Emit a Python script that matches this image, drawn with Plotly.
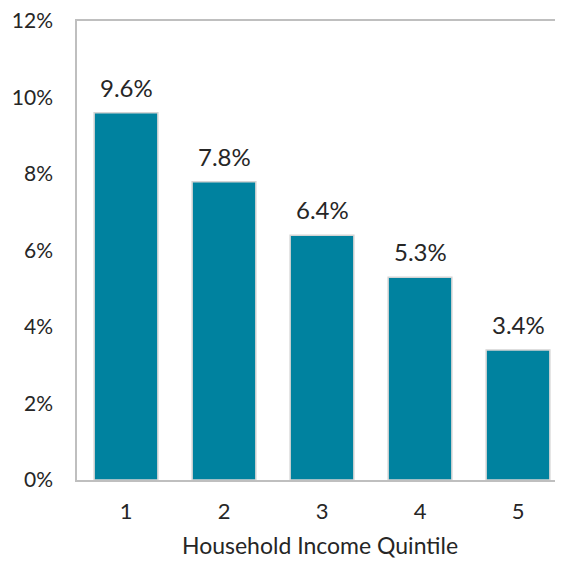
import plotly.graph_objects as go

quintiles = [1, 2, 3, 4, 5]
values = [9.6, 7.8, 6.4, 5.3, 3.4]
labels = ["9.6%", "7.8%", "6.4%", "5.3%", "3.4%"]
y_ticks = [0, 2, 4, 6, 8, 10, 12]
y_tick_labels = ["0%", "2%", "4%", "6%", "8%", "10%", "12%"]

font_color = "#262626"

fig = go.Figure()
fig.add_trace(go.Bar(
    x=quintiles, y=values, width=0.65,
    marker=dict(color="#00829F", line=dict(color="#D4D4D4", width=1.5)),
    hoverinfo="skip",
))
for q, v, lab in zip(quintiles, values, labels):
    fig.add_annotation(x=q, y=v, text=lab, showarrow=False, yanchor="bottom",
                       yshift=9, font=dict(family="Lato", size=24, color=font_color))

fig.update_layout(
    width=555, height=557,
    margin=dict(l=69, r=0, t=13, b=85),
    paper_bgcolor="white", plot_bgcolor="white",
    showlegend=False,
    font=dict(family="Lato", size=21, color=font_color),
    xaxis=dict(
        range=[0.5, 0.5 + 486 / 98], tickvals=quintiles, ticktext=[str(q) for q in quintiles],
        showline=True, linecolor="#BFBFBF", linewidth=1.5, mirror=True,
        showgrid=False, zeroline=False, ticks="", ticklabelstandoff=11,
        automargin=False, tickfont=dict(size=22),
        title=dict(text="Household Income Quintile", standoff=15,
                   font=dict(family="Lato", size=23, color=font_color)),
    ),
    yaxis=dict(
        range=[0, 12.0001], tickvals=y_ticks, ticktext=y_tick_labels,
        showline=True, linecolor="#BFBFBF", linewidth=1.5,
        showgrid=False, zeroline=False, ticks="", ticklabelstandoff=18,
        ticklabeloverflow="allow", automargin=False,
    ),
)
fig.write_html("out.html")
